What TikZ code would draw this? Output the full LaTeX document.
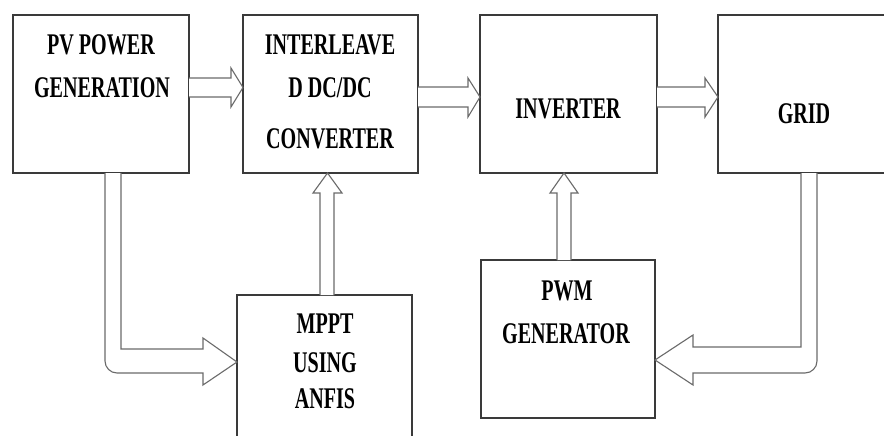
\documentclass[tikz,border=0pt]{standalone}
\usepackage{fontspec}
\setmainfont{Liberation Serif}[FakeStretch=0.67]
\definecolor{boxline}{HTML}{3A3A3A}
\definecolor{arrline}{HTML}{6A6A6A}
\tikzset{
  x=1pt, y=1pt,
  blockbox/.style={draw=boxline, line width=1.4pt, inner sep=0pt, outer sep=0pt, fill=white},
  lbl/.style={anchor=base, inner sep=0pt, text=black, font=\fontsize{30pt}{36pt}\selectfont\bfseries},
  fatarrow/.style={draw=arrline, line width=1.1pt, line join=miter, fill=white}
}
\begin{document}
\begin{tikzpicture}
\useasboundingbox (0,0) rectangle (884,-436);
\clip (0,0) rectangle (884,-436);
\fill[white] (0,0) rectangle (884,-436);
% boxes
\node[blockbox, minimum width=176pt, minimum height=158pt] (pv)   at (101,-94) {};
\node[blockbox, minimum width=175pt, minimum height=158pt] (il)   at (330.5,-94) {};
\node[blockbox, minimum width=177pt, minimum height=158pt] (inv)  at (568.5,-94) {};
\node[blockbox, minimum width=190pt, minimum height=158pt] (grid) at (813,-94) {};
\node[blockbox, minimum width=175pt, minimum height=160pt] (mppt) at (324.5,-375) {};
\node[blockbox, minimum width=174pt, minimum height=158pt] (pwm)  at (568,-339) {};
% labels
\node[lbl] (pv1) at (101,-55) {PV POWER};
\node[lbl] (pv2) at (102,-97) {GENERATION};
\node[lbl] (il1) at (330,-55) {INTERLEAVE};
\node[lbl] (il2) at (330,-97) {D DC/DC};
\node[lbl] (il3) at (330,-148) {CONVERTER};
\node[lbl] (inv1) at (568,-118) {INVERTER};
\node[lbl] (grid1) at (804,-123) {GRID};
\node[lbl] (mp1) at (325,-333) {MPPT};
\node[lbl] (mp2) at (325,-372) {USING};
\node[lbl] (mp3) at (325,-408) {ANFIS};
\node[lbl] (pw1) at (567,-300) {PWM};
\node[lbl] (pw2) at (566,-343) {GENERATOR};
% PV -> interleaved converter
\draw[fatarrow] (pv.east |- 0,-78) -- ([xshift=-12pt]il.west |- 0,-78)
  -- ([xshift=-12pt]il.west |- 0,-68) -- (il.west |- 0,-87.5)
  -- ([xshift=-12pt]il.west |- 0,-107) -- ([xshift=-12pt]il.west |- 0,-97)
  -- (pv.east |- 0,-97);
% converter -> inverter
\draw[fatarrow] (il.east |- 0,-87) -- ([xshift=-12pt]inv.west |- 0,-87)
  -- ([xshift=-12pt]inv.west |- 0,-78) -- (inv.west |- 0,-97)
  -- ([xshift=-12pt]inv.west |- 0,-117) -- ([xshift=-12pt]inv.west |- 0,-107)
  -- (il.east |- 0,-107);
% inverter -> grid
\draw[fatarrow] (inv.east |- 0,-87) -- ([xshift=-13pt]grid.west |- 0,-87)
  -- ([xshift=-13pt]grid.west |- 0,-78) -- (grid.west |- 0,-97)
  -- ([xshift=-13pt]grid.west |- 0,-117) -- ([xshift=-13pt]grid.west |- 0,-107)
  -- (inv.east |- 0,-107);
% MPPT -> converter
\draw[fatarrow] (320,0 |- mppt.north) -- ([yshift=-20pt]il.south -| 320,0)
  -- ([yshift=-20pt]il.south -| 313,0) -- (il.south -| 327.5,0)
  -- ([yshift=-20pt]il.south -| 342,0) -- ([yshift=-20pt]il.south -| 334,0)
  -- (334,0 |- mppt.north);
% PWM -> inverter
\draw[fatarrow] (557,0 |- pwm.north) -- ([yshift=-20pt]inv.south -| 557,0)
  -- ([yshift=-20pt]inv.south -| 550,0) -- (inv.south -| 564,0)
  -- ([yshift=-20pt]inv.south -| 578,0) -- ([yshift=-20pt]inv.south -| 571,0)
  -- (571,0 |- pwm.north);
% PV -> MPPT
\draw[fatarrow] (121,0 |- pv.south) -- (121,-349)
  -- ([xshift=-34pt]mppt.west |- 0,-349) -- ([xshift=-34pt]mppt.west |- 0,-338)
  -- (mppt.west |- 0,-362)
  -- ([xshift=-34pt]mppt.west |- 0,-385) -- ([xshift=-34pt]mppt.west |- 0,-373)
  -- (117,-373) arc[start angle=270, end angle=180, radius=12pt]
  -- (105,0 |- pv.south);
% grid -> PWM
\draw[fatarrow] (801,0 |- grid.south) -- (801,-347)
  -- ([xshift=38pt]pwm.east |- 0,-347) -- ([xshift=38pt]pwm.east |- 0,-335)
  -- (pwm.east |- 0,-360)
  -- ([xshift=38pt]pwm.east |- 0,-385) -- ([xshift=38pt]pwm.east |- 0,-373)
  -- (805,-373) arc[start angle=270, end angle=360, radius=12pt]
  -- (817,0 |- grid.south);
\end{tikzpicture}
\end{document}
